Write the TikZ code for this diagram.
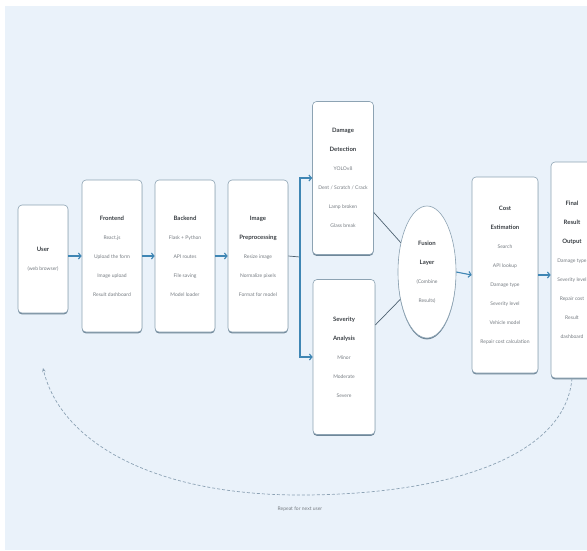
\documentclass[tikz,border=0pt]{standalone}
\usepackage{fontspec}
\setmainfont{Lato}
\usetikzlibrary{arrows.meta,shadows,shapes.geometric}
\definecolor{BackClr}{HTML}{EAF2FA}
\definecolor{EdgeClr}{HTML}{8DA3B3}
\definecolor{ShadeClr}{HTML}{6F8799}
\definecolor{FlowClr}{HTML}{3F86B4}
\definecolor{TitleClr}{HTML}{3A3F44}
\definecolor{BodyClr}{HTML}{767C82}
\definecolor{LinkClr}{HTML}{4E6272}
\definecolor{LoopClr}{HTML}{8CA2B4}
\newcommand{\ttl}[1]{{\fontsize{6}{19}\selectfont\bfseries\color{TitleClr}#1}}

\begin{document}
\begin{tikzpicture}[x=1pt,y=-1pt,
  stage/.style={draw=EdgeClr,fill=white,rounded corners=4pt,line width=0.6pt,
    drop shadow={shadow xshift=0pt,shadow yshift=-1.4pt,fill=ShadeClr,opacity=1},
    align=center,text=BodyClr,font=\fontsize{5}{19}\selectfont,inner sep=1pt},
  merge/.style={stage,ellipse,rounded corners=0pt},
  flow/.style={draw=FlowClr,line width=1.1pt,-{Straight Barb[length=2.6pt,width=6pt]}},
  feed/.style={draw=LinkClr,line width=0.7pt},
  backloop/.style={draw=LoopClr,line width=0.7pt,densely dashed,-{Stealth[length=4pt,width=3.5pt]}}]

\useasboundingbox (0,0) rectangle (587,550);
\fill[BackClr] (5,6) rectangle (587,550);

% main row
\node[stage,minimum width=50,minimum height=108] (user) at (43,259) {\ttl{User}\\(web browser)};
\node[stage,minimum width=60,minimum height=152] (front) at (112,256) {\ttl{Frontend}\\React.js\\Upload the form\\Image upload\\Result dashboard};
\node[stage,minimum width=60,minimum height=152] (back) at (185,256) {\ttl{Backend}\\Flask + Python\\API routes\\File saving\\Model loader};
\node[stage,minimum width=60,minimum height=152] (pre) at (258,256) {\ttl{Image}\\\ttl{Preprocessing}\\Resize image\\Normalize pixels\\Format for model};

% two branches
\node[stage,minimum width=61,minimum height=153] (det) at (343,178) {\ttl{Damage}\\\ttl{Detection}\\YOLOv8\\Dent / Scratch / Crack\\Lamp broken\\Glass break};
\node[stage,minimum width=62,minimum height=155] (sev) at (344,357) {\ttl{Severity}\\\ttl{Analysis}\\Minor\\Moderate\\Severe};

\node[merge,minimum width=58,minimum height=132] (fus) at (427,272) {\ttl{Fusion}\\\ttl{Layer}\\(Combine\\Results)};

\node[stage,minimum width=66,minimum height=196] (cost) at (505,275) {\ttl{Cost}\\\ttl{Estimation}\\Search\\API lookup\\Damage type\\Severity level\\Vehicle model\\Repair cost calculation};
\node[stage,minimum width=42,minimum height=216] (fin) at (572,270) {\ttl{Final}\\\ttl{Result}\\\ttl{Output}\\Damage type\\Severity level\\Repair cost\\Result\\dashboard};

\coordinate (split) at (300,257);
\coordinate (again) at (43,368);

\draw[flow] (user.east |- front.west) -- (front.west);
\draw[flow] (front.east) -- (back.west);
\draw[flow] (back.east) -- (pre.west);
\draw[feed] (pre.east) -- (split);
\draw[flow] (split) |- (det.west);
\draw[flow] (split) |- (sev.west);
\draw[feed] (det) -- (fus);
\draw[feed] (sev) -- (fus);
\draw[flow] (fus.east) -- (cost.west);
\draw[flow] (cost.east) -- (fin.west |- cost.east);

% loop back to the user
\draw[backloop] (fin.south) .. controls (565,460) and (440,495) .. (300,495)
  .. controls (150,495) and (60,440) .. (again);
\node[text=BodyClr,font=\fontsize{5}{6}\selectfont] (rep) at (300,509) {Repeat for next user};

\end{tikzpicture}
\end{document}
